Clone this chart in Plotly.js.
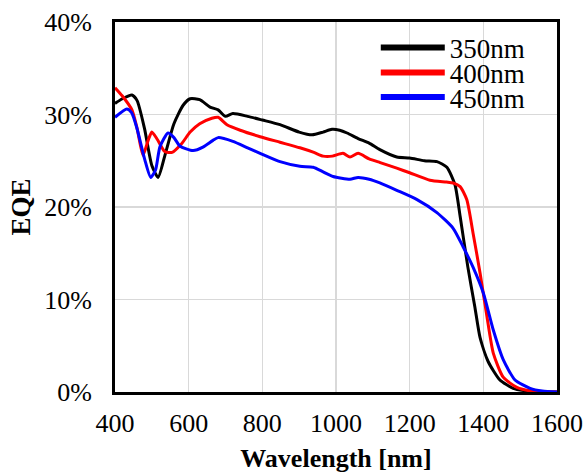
<!DOCTYPE html>
<html>
<head>
<meta charset="utf-8">
<script src="https://cdn.plot.ly/plotly-3.0.1.min.js"></script>
<style>html,body{margin:0;padding:0;background:#fff;}#chart{width:586px;height:473px;}</style>
</head>
<body>
<div id="chart"></div>
<script>
const seriesNames = ["350nm", "400nm", "450nm"];
const seriesColors = ["#000000", "#ff0000", "#0000ff"];

const wl350 = [400,420,446,460,480,500,517,535,560,585,604,630,658,680,700,720,760,800,848,900,935,965,989,1010,1030,1060,1090,1119,1165,1200,1240,1274,1301,1323,1337,1358,1377,1391,1413,1445,1481,1520,1560,1600];
const eqe350 = [31.2,31.7,32.1,31.5,28.5,24.5,23.2,25.5,29.0,31.0,31.7,31.6,30.8,30.5,29.8,30.1,29.8,29.4,28.9,28.1,27.8,28.1,28.4,28.3,28.0,27.4,26.9,26.2,25.4,25.3,25.0,24.9,24.3,22.4,19.0,13.5,9.2,5.9,3.3,1.3,0.4,0.1,0.0,0.0];

const wl400 = [400,420,446,460,476,490,500,515,535,555,580,604,630,663,680,704,740,794,848,902,940,965,990,1019,1038,1060,1090,1120,1165,1200,1255,1300,1318,1337,1355,1372,1391,1410,1427,1454,1491,1530,1560,1600];
const eqe400 = [32.9,32.0,30.5,28.5,25.6,27.2,28.1,27.3,26.0,25.9,26.8,28.1,29.0,29.6,29.7,28.9,28.3,27.6,27.0,26.4,25.9,25.5,25.5,25.8,25.4,25.8,25.2,24.8,24.2,23.7,22.9,22.7,22.6,22.2,20.8,17.2,12.9,8.1,4.2,1.6,0.5,0.1,0.0,0.0];

const wl450 = [400,432,445,459,481,497,510,522,544,560,576,612,640,666,680,720,760,794,848,902,938,965,992,1038,1060,1090,1119,1165,1220,1274,1318,1345,1372,1400,1427,1454,1486,1527,1560,1600];
const eqe450 = [29.7,30.6,30.2,28.6,25.1,23.2,24.0,26.5,28.0,27.5,26.6,26.1,26.5,27.2,27.5,27.1,26.4,25.8,24.9,24.4,24.3,23.8,23.3,23.0,23.2,23.0,22.6,21.8,20.8,19.4,17.7,15.7,13.5,10.7,6.7,3.5,1.3,0.4,0.1,0.0];

const xTicks = [400,600,800,1000,1200,1400,1600];
const yTicks = [0,10,20,30,40];
const yTickLabels = ["0%","10%","20%","30%","40%"];

const xs = [wl350, wl400, wl450];
const ys = [eqe350, eqe400, eqe450];
const legendIds = ["legend", "legend2", "legend3"];

const traces = [];
for (let i = 0; i < 3; i++) {
  traces.push({
    x: xs[i], y: ys[i], type: "scatter", mode: "lines",
    line: {color: seriesColors[i], width: 3, shape: "spline", smoothing: 0.6},
    showlegend: false, hoverinfo: "skip"
  });
}
for (let i = 0; i < 3; i++) {
  traces.push({
    x: [null], y: [null], type: "scatter", mode: "lines", name: seriesNames[i],
    line: {color: seriesColors[i], width: 6},
    showlegend: true, legend: legendIds[i]
  });
}

const font = "Liberation Serif";
const legFont = {family: font, size: 27, color: "#000"};
const legBase = {xanchor: "left", yanchor: "middle", bgcolor: "rgba(0,0,0,0)", borderwidth: 0, font: legFont, itemwidth: 64};

const layout = {
  width: 586, height: 473,
  margin: {l: 115, r: 29, t: 22, b: 81},
  paper_bgcolor: "#fff", plot_bgcolor: "#fff",
  font: {family: font, color: "#000", size: 26},
  xaxis: {
    range: [400, 1600], tickvals: xTicks, ticktext: xTicks.map(String),
    showgrid: true, gridcolor: "#d9d9d9", gridwidth: 1.5,
    showline: true, linecolor: "#000", linewidth: 3, mirror: true,
    ticks: "", zeroline: false, ticklabelstandoff: 6,
    tickfont: {family: font, size: 26, color: "#000"},
    title: {text: "<b>Wavelength [nm]</b>", font: {family: font, size: 26, color: "#000"}, standoff: 12}
  },
  yaxis: {
    range: [0, 40], tickvals: yTicks, ticktext: yTickLabels,
    showgrid: true, gridcolor: "#d9d9d9", gridwidth: 1.5,
    showline: true, linecolor: "#000", linewidth: 3, mirror: true,
    ticks: "", zeroline: false, ticklabelstandoff: 15,
    tickfont: {family: font, size: 26, color: "#000"},
    title: {text: "<b>EQE</b>", font: {family: font, size: 27, color: "#000"}, standoff: 6}
  },
  legend: Object.assign({}, legBase, {x: 0.59, y: 0.93}),
  legend2: Object.assign({}, legBase, {x: 0.59, y: 0.862}),
  legend3: Object.assign({}, legBase, {x: 0.59, y: 0.796}),
  showlegend: true
};

Plotly.newPlot("chart", traces, layout, {staticPlot: true, displayModeBar: false});
</script>
</body>
</html>
